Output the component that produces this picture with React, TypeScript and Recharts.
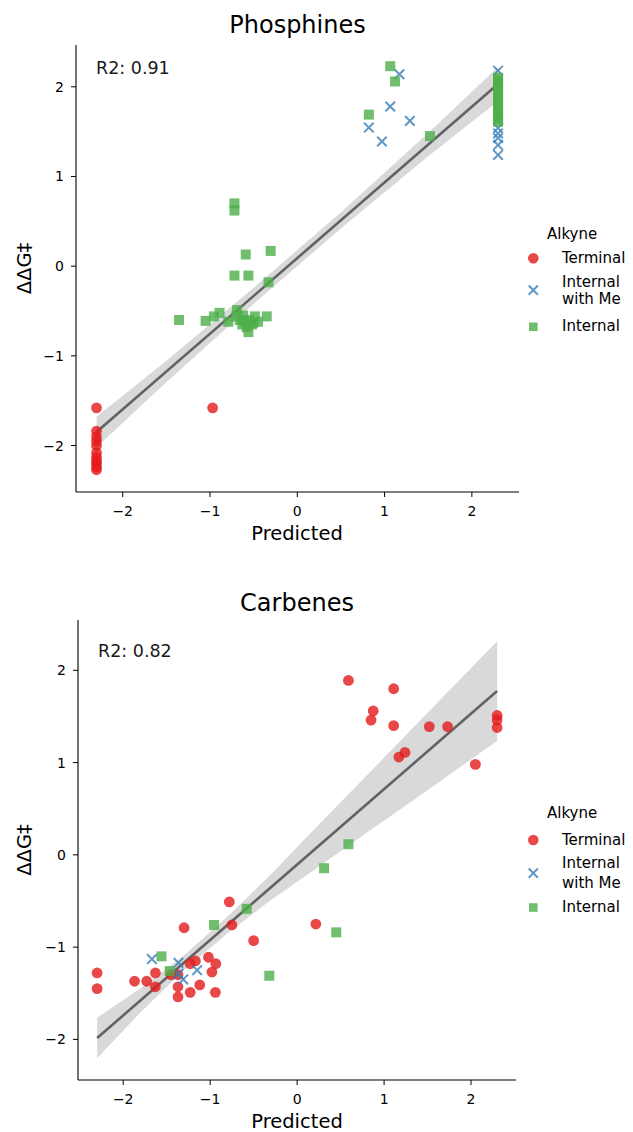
import { ComposedChart, Scatter, Area, Line, XAxis, YAxis } from 'recharts'

const RED = '#e41a1c'
const BLUE = '#377eb8'
const GREEN = '#4daf4a'
const FONT = 'DejaVu Sans, sans-serif'

// ---- Phosphines ----
const phosTerminalX = [-2.3, -2.3, -2.3, -2.3, -2.3, -2.3, -2.3, -2.3, -2.3, -2.3, -2.3, -0.97]
const phosTerminalY = [-1.58, -1.84, -1.9, -1.95, -2.0, -2.08, -2.13, -2.17, -2.2, -2.24, -2.27, -1.58]

const phosMeX = [1.17, 1.065, 0.82, 0.97, 1.29, 2.3, 2.3, 2.3, 2.3, 2.3, 2.3]
const phosMeY = [2.14, 1.78, 1.545, 1.39, 1.62, 2.18, 1.54, 1.48, 1.43, 1.35, 1.24]

const phosInternalX = [
  1.065, 1.12, 0.82, 1.52,
  2.3, 2.3, 2.3, 2.3, 2.3, 2.3, 2.3, 2.3, 2.3, 2.3, 2.3, 2.3, 2.3, 2.3,
  -0.72, -0.72, -0.59, -0.305, -0.72, -0.56, -0.33,
  -1.355, -1.05, -0.955, -0.89, -0.79, -0.69, -0.66, -0.63, -0.6, -0.58, -0.56, -0.55,
  -0.52, -0.62, -0.485, -0.45, -0.35, -0.7, -0.5,
]
const phosInternalY = [
  2.23, 2.06, 1.69, 1.45,
  2.1, 2.07, 2.04, 2.0, 1.96, 1.92, 1.88, 1.84, 1.8, 1.76, 1.72, 1.68, 1.64, 1.61,
  0.7, 0.62, 0.13, 0.17, -0.105, -0.105, -0.18,
  -0.6, -0.61, -0.56, -0.52, -0.62, -0.49, -0.6, -0.65, -0.62, -0.68, -0.735, -0.6,
  -0.65, -0.55, -0.56, -0.62, -0.56, -0.56, -0.63,
]

const phosFitX = [-2.3, 2.3]
const phosFitY = [-1.85, 2.03]
const phosBandX = [-2.3, -1.5, -0.5, 0.5, 1.5, 2.3]
const phosBandLo = [-2.02, -1.295, -0.42, 0.42, 1.225, 1.84]
const phosBandHi = [-1.68, -1.055, -0.24, 0.6, 1.485, 2.22]

// ---- Carbenes ----
const carbTerminalX = [
  0.59, 1.11, 0.875, 0.85, 1.11, 1.52, 1.73, 1.24, 1.17, 2.05, 2.3, 2.3, 2.3,
  -0.78, -1.3, -0.75, -0.5, 0.215, -2.3, -2.3, -1.87, -1.73, -1.63, -1.63, -1.45,
  -1.37, -1.37, -1.37, -1.23, -1.17, -1.23, -1.12, -1.02, -0.935, -0.98, -0.94,
]
const carbTerminalY = [
  1.89, 1.8, 1.56, 1.46, 1.4, 1.39, 1.39, 1.11, 1.06, 0.98, 1.51, 1.46, 1.38,
  -0.51, -0.79, -0.76, -0.93, -0.75, -1.28, -1.45, -1.37, -1.37, -1.28, -1.43, -1.3,
  -1.3, -1.43, -1.54, -1.18, -1.15, -1.49, -1.41, -1.11, -1.18, -1.27, -1.49,
]

const carbMeX = [-1.67, -1.365, -1.365, -1.31, -1.15]
const carbMeY = [-1.13, -1.17, -1.29, -1.35, -1.25]

const carbInternalX = [0.59, 0.31, -0.58, -0.955, 0.45, -0.32, -1.56, -1.465]
const carbInternalY = [0.115, -0.145, -0.585, -0.76, -0.84, -1.31, -1.1, -1.26]

const carbFitX = [-2.3, 2.3]
const carbFitY = [-1.985, 1.775]
const carbBandX = [-2.3, -1.8, -1.3, -0.8, -0.3, 0.2, 0.8, 1.5, 2.3]
const carbBandLo = [-2.205, -1.706, -1.248, -0.849, -0.49, -0.161, 0.239, 0.701, 1.235]
const carbBandHi = [-1.765, -1.446, -1.088, -0.669, -0.21, 0.279, 0.859, 1.541, 2.315]

const ticks = [-2, -1, 0, 1, 2]

const pts = (xs: number[], ys: number[]) => xs.map((x, i) => ({ x, y: ys[i] }))
const band = (xs: number[], lo: number[], hi: number[]) =>
  xs.map((x, i) => ({ x, range: [lo[i], hi[i]] }))
const fit = (xs: number[], ys: number[]) => xs.map((x, i) => ({ x, fit: ys[i] }))

const fmt = (v: number) => (v < 0 ? '\u2212' + Math.abs(v) : String(v))

const CircleShape = (p: any) => (
  <circle cx={p.cx} cy={p.cy} r={5.4} fill={RED} fillOpacity={0.8} />
)
const SquareShape = (p: any) => (
  <rect x={p.cx - 5} y={p.cy - 5} width={10} height={10} fill={GREEN} fillOpacity={0.8} />
)
const CrossShape = (p: any) => (
  <path
    d={`M${p.cx - 4.8},${p.cy - 4.8}L${p.cx + 4.8},${p.cy + 4.8}M${p.cx - 4.8},${p.cy + 4.8}L${p.cx + 4.8},${p.cy - 4.8}`}
    stroke={BLUE}
    strokeOpacity={0.8}
    strokeWidth={2}
    fill="none"
  />
)

interface PanelProps {
  top: number
  margin: { top: number; right: number; bottom: number; left: number }
  xDomain: [number, number]
  yDomain: [number, number]
  terminal: { x: number; y: number }[]
  me: { x: number; y: number }[]
  internal: { x: number; y: number }[]
  bandData: { x: number; range: number[] }[]
  fitData: { x: number; fit: number }[]
}

function Panel(props: PanelProps) {
  const tick = { fill: '#000', fontSize: 14, fontFamily: FONT }
  return (
    <div style={{ position: 'absolute', left: 0, top: props.top }}>
      <ComposedChart width={633} height={566} margin={props.margin}>
        <XAxis
          type="number"
          dataKey="x"
          domain={props.xDomain}
          ticks={ticks}
          allowDataOverflow
          tickFormatter={fmt}
          tick={tick}
          tickSize={5}
          tickMargin={9}
          height={30}
          axisLine={{ stroke: '#000', strokeWidth: 1.1 }}
          tickLine={{ stroke: '#000', strokeWidth: 1 }}
        />
        <YAxis
          type="number"
          domain={props.yDomain}
          ticks={ticks}
          allowDataOverflow
          tickFormatter={fmt}
          tick={tick}
          tickSize={5}
          tickMargin={7}
          width={60}
          axisLine={{ stroke: '#000', strokeWidth: 1.1 }}
          tickLine={{ stroke: '#000', strokeWidth: 1 }}
        />
        <Scatter data={props.terminal} dataKey="y" shape={CircleShape} isAnimationActive={false} />
        <Scatter data={props.me} dataKey="y" shape={CrossShape} isAnimationActive={false} />
        <Scatter data={props.internal} dataKey="y" shape={SquareShape} isAnimationActive={false} />
        <Area
          data={props.bandData}
          dataKey="range"
          type="linear"
          stroke="none"
          fill="#000"
          fillOpacity={0.15}
          isAnimationActive={false}
        />
        <Line
          data={props.fitData}
          dataKey="fit"
          type="linear"
          stroke="#000"
          strokeOpacity={0.55}
          strokeWidth={2.6}
          dot={false}
          isAnimationActive={false}
        />
      </ComposedChart>
    </div>
  )
}

function LegendBlock({ y0, rows }: { y0: number; rows: number[] }) {
  // rows: baselines of Terminal, Internal, with Me, Internal(green)
  const t = { fontFamily: FONT, fontSize: 15, fill: '#000' }
  return (
    <g>
      <text x={547} y={y0} {...t}>Alkyne</text>
      <circle cx={533.3} cy={rows[0] - 5} r={5.3} fill={RED} fillOpacity={0.8} />
      <text x={562} y={rows[0]} {...t}>Terminal</text>
      <path
        d={`M528.7,${(rows[1] + rows[2]) / 2 - 9.6}l9.2,9.2m-9.2,0l9.2,-9.2`}
        stroke={BLUE}
        strokeOpacity={0.8}
        strokeWidth={2}
      />
      <text x={562} y={rows[1]} {...t}>Internal</text>
      <text x={562} y={rows[2]} {...t}>with Me</text>
      <rect x={529} y={rows[3] - 8.5} width={8.6} height={8.6} fill={GREEN} fillOpacity={0.8} />
      <text x={562} y={rows[3]} {...t}>Internal</text>
    </g>
  )
}

export default function App() {
  const title = { fontFamily: FONT, fontSize: 24, fill: '#000', textAnchor: 'middle' as const }
  const label = { fontFamily: FONT, fontSize: 19.5, fill: '#000', textAnchor: 'middle' as const }
  const r2 = { fontFamily: FONT, fontSize: 17.5, fill: '#1a1a1a' }
  return (
    <div
      style={{
        position: 'absolute',
        left: 0,
        top: 0,
        width: 633,
        height: 1132,
        background: '#fff',
        overflow: 'hidden',
      }}
    >
      <Panel
        top={0}
        margin={{ top: 45, right: 114, bottom: 44, left: 16 }}
        xDomain={[-2.535, 2.54]}
        yDomain={[-2.518, 2.466]}
        terminal={pts(phosTerminalX, phosTerminalY)}
        me={pts(phosMeX, phosMeY)}
        internal={pts(phosInternalX, phosInternalY)}
        bandData={band(phosBandX, phosBandLo, phosBandHi)}
        fitData={fit(phosFitX, phosFitY)}
      />
      <Panel
        top={566}
        margin={{ top: 54, right: 117, bottom: 22, left: 18 }}
        xDomain={[-2.52, 2.517]}
        yDomain={[-2.44, 2.545]}
        terminal={pts(carbTerminalX, carbTerminalY)}
        me={pts(carbMeX, carbMeY)}
        internal={pts(carbInternalX, carbInternalY)}
        bandData={band(carbBandX, carbBandLo, carbBandHi)}
        fitData={fit(carbFitX, carbFitY)}
      />
      <svg
        width={633}
        height={1132}
        style={{ position: 'absolute', left: 0, top: 0, pointerEvents: 'none' }}
      >
        <text x={297.5} y={33} {...title}>Phosphines</text>
        <text x={297} y={611} {...title}>Carbenes</text>
        <text x={297} y={540} {...label}>Predicted</text>
        <text x={297} y={1128} {...label}>Predicted</text>
        <text x={31} y={268.5} {...label} transform="rotate(-90 31 268.5)">ΔΔG‡</text>
        <text x={31} y={850} {...label} transform="rotate(-90 31 850)">ΔΔG‡</text>
        <text x={96} y={74} {...r2}>R2: 0.91</text>
        <text x={98} y={657} {...r2}>R2: 0.82</text>
        <LegendBlock y0={239} rows={[263.3, 286.7, 303.5, 331]} />
        <LegendBlock y0={818.3} rows={[845, 868.3, 888, 911.7]} />
      </svg>
    </div>
  )
}
